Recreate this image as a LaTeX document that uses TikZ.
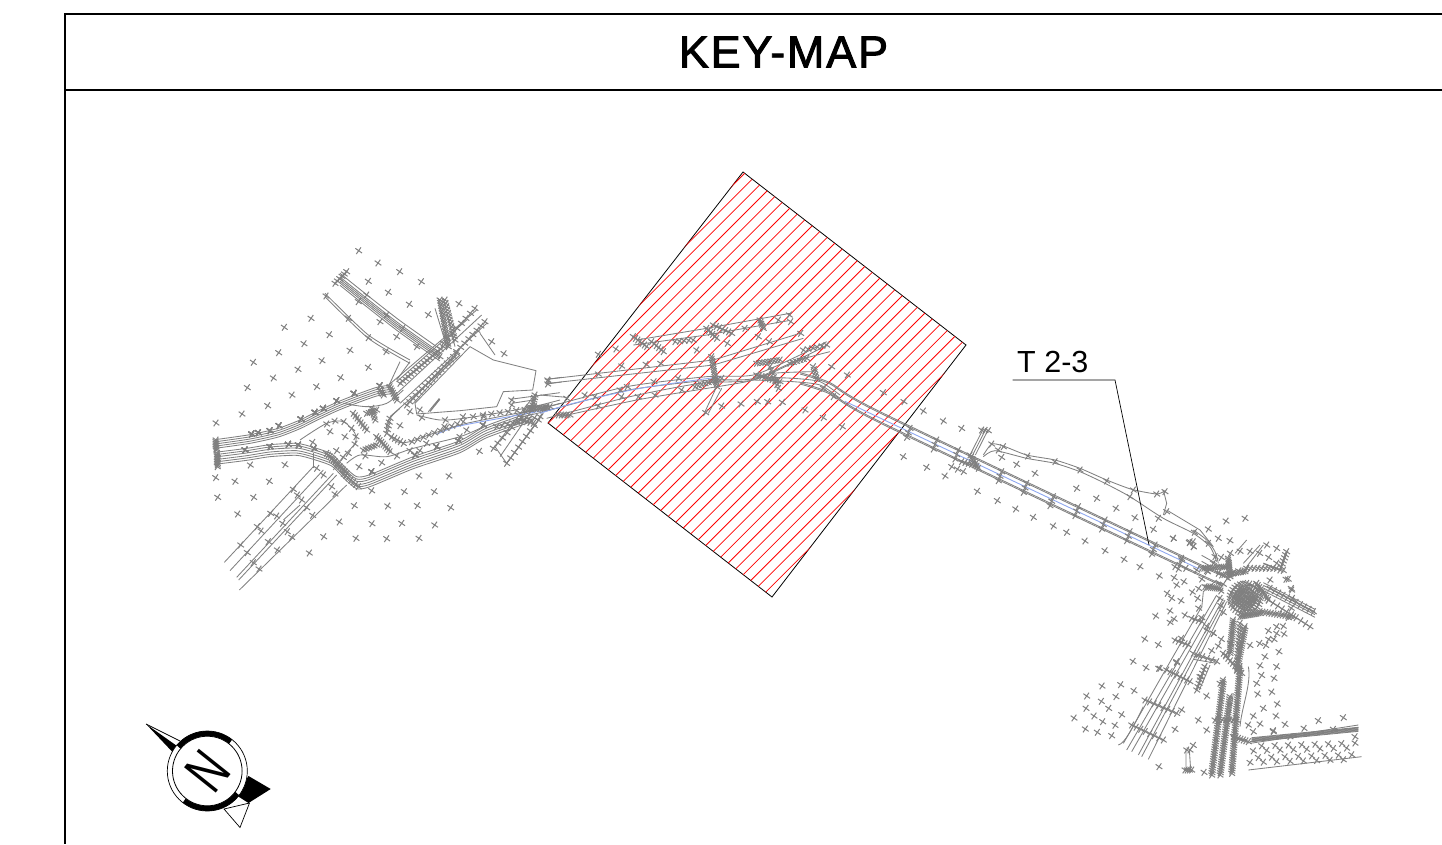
\documentclass[tikz,border=0pt]{standalone}
\usepackage{fontspec}
\setmainfont{Liberation Sans}
\newfontfamily\titlefont[FakeBold=2,LetterSpace=4]{Liberation Sans}
\definecolor{roadgray}{HTML}{808080}
\definecolor{axisblue}{HTML}{8FA8F0}
\tikzset{
  roadline/.style={draw=roadgray,line width=0.85pt},
  crossmark/.style={draw=roadgray,line width=1pt},
  axisline/.style={draw=axisblue,line width=0.9pt},
  frameline/.style={draw=black,line width=2pt},
  hatchline/.style={draw=red,line width=0.8pt},
  zoomed/.style={shift={#1},scale=0.33333}
}
% Crosses, in the 3x scopes only
\newcommand{\crosses}[1]{\foreach \x/\y in {#1} {
    \draw[crossmark] (\x-10,\y-7) -- ++(20,14) (\x-7,\y+10) -- ++(14,-20);
}}
\newcommand{\crossrun}[5]{\foreach \i in {0,...,#5} {
    \pgfmathsetmacro{\cx}{#1+(#3-#1)*\i/#5}
    \pgfmathsetmacro{\cy}{#2+(#4-#2)*\i/#5}
    \draw[crossmark] (\cx-10,\cy-7) -- ++(20,14) (\cx-7,\cy+10) -- ++(14,-20);
}}
\newcommand{\bundle}[2]{\foreach \o in {#1} {
    \draw[roadline,yshift=\o pt] plot[smooth,tension=0.4] coordinates {#2};
}}
\begin{document}
\begin{tikzpicture}[x=1pt,y=-1pt]
\useasboundingbox (0,0) rectangle (1442,844);

% Frame and title
\draw[frameline] (1442,14) -- (65,14) -- (65,844);
\draw[frameline] (65,90) -- (1442,90);
\node[font=\titlefont\fontsize{45}{50}\selectfont,inner sep=0pt] (maptitle) at (783.5,52) {KEY-MAP};

% Hatched sheet
\coordinate (sheetn) at (743,172);
\coordinate (sheete) at (966,345);
\coordinate (sheets) at (772,597);
\coordinate (sheetw) at (548,423);
\draw[black,line width=0.8pt] (sheetn) -- (sheete) -- (sheets) -- (sheetw) -- cycle;
\begin{scope}
  \clip (sheetn) -- (sheete) -- (sheets) -- (sheetw) -- cycle;
  \foreach \k in {0,...,34} {
    \pgfmathsetmacro{\hc}{918+13.33*\k}
    \draw[hatchline] (\hc-100,100) -- (\hc-700,700);
  }
\end{scope}

% West junction
\begin{scope}[zoomed={(200,240)}]
\bundle{-13,-6.5,0,6.5,13}{(45,612) (150,597) (235,578) (300,553) (350,528) (410,500) (460,480) (530,455) (575,448)}
\bundle{-18,-11,-4,4,11,18}{(45,655) (140,643) (210,632) (290,628) (340,640) (395,660) (435,700) (470,728) (510,722) (640,668) (780,620) (860,575) (1000,525)}
% north west arms
\bundle{-18,-11,-5,1,7,18}{(420,118) (510,190) (600,260) (720,345)}
\bundle{-5,5}{(375,165) (505,290) (630,365)}
\draw[roadline] (630,365) -- (590,420);
\draw[roadline] (600,365) -- (565,440);
% arm going north east
\foreach \a/\b/\c/\d in {560/440/830/210, 580/470/845/225, 600/490/860/250, 570/530/780/345, 640/490/770/345, 590/425/800/240} {
  \draw[roadline] (\a,\b) -- (\c,\d);
}
\foreach \a/\b/\c/\d in {715/175/745/320, 730/175/765/320, 705/205/740/320} {
  \draw[roadline] (\a,\b) -- (\c,\d);
}
% south west arm
\foreach \a/\b/\c/\d in {73/967/340/680, 90/992/370/690, 110/1012/400/700, 116/1020/410/705, 118/1050/440/735} {
  \draw[roadline] (\a,\b) -- (\c,\d);
}
\draw[roadline] (250,840) -- (300,795);
\draw[roadline] (340,685) -- (340,640);
% inner loops
\draw[roadline] plot[smooth,tension=0.5] coordinates {(300,600) (380,550) (430,545) (465,580) (465,610) (430,650) (400,690)};
\draw[roadline] plot[smooth,tension=0.5] coordinates {(600,505) (565,540) (560,575) (590,605) (630,605) (700,580) (800,550) (1000,510) (1080,490)};
\draw[roadline] plot[smooth,tension=0.5] coordinates {(430,490) (500,500) (560,490) (610,450)};
\draw[roadline] plot[smooth,tension=0.5] coordinates {(440,670) (480,645) (560,650) (640,625) (780,590) (850,560)};
\draw[roadline] plot[smooth,tension=0.5] coordinates {(650,525) (720,540) (790,535) (900,518) (1000,500) (1080,480)};
% site outline
\draw[roadline] (810,320) -- (880,360) -- (1008,392) -- (998,450) -- (910,455) -- (890,500) -- (780,512) -- (650,522) -- (645,490) -- cycle;
\draw[roadline] (840,280) -- (885,345);
\draw[roadline] (685,515) -- (718,475) (690,515) -- (720,478);
\draw[roadline] (930,478) -- (1080,458) (935,490) -- (1000,480);
\draw[roadline] (1040,418) -- (1085,412) (1040,432) -- (1085,426);
% tail at the sheet
\foreach \a/\b/\c/\d in {880/625/1000/470, 900/650/1010/490, 920/670/1030/520, 885/620/920/670, 920/670/1020/535} {
  \draw[roadline] (\a,\b) -- (\c,\d);
}
\draw[axisline] plot[smooth,tension=0.5] coordinates {(710,583) (770,560) (900,535) (1080,503)};

% scattered levels
\crosses{476/32,534/69,599/95,664/125,505/124,565/157,628/193,685/224,777/191,333/235,253/262,388/284,312/311,450/331,236/338,160/367,366/362,294/388,505/382,220/414,422/413,142/443,350/440,276/465,203/497,126/522,48/549,875/305,912/341,47/713,105/724,208/724,53/772,161/772,113/822,255/674,151/675,463/797,563/798,652/797,752/803,703/755,613/755,657/708,747/708,515/752,418/846,516/851,605/850,704/855,371/890,468/895,560/896,657/895,328/939,838/634,390/575,435/590,338/607,410/632,477/680,545/668,495/648,600/557,665/533,736/540,680/610,630/632,660/632,590/648}
% crosses across the roads
\crossrun{48}{600}{48}{630}{6}
\crossrun{52}{640}{52}{680}{8}
\foreach \px/\py/\n in {155/597/5,175/593/5,210/587/4,237/572/4,303/552/6,345/532/6,370/520/5,410/497/5,462/475/5,540/452/4,135/645/5,210/635/5,265/628/5,295/630/5,342/640/5} {
  \crossrun{\px}{\py-15}{\px}{\py+15}{\n}
}
\crossrun{380}{640}{440}{700}{12}
\crossrun{430}{700}{475}{740}{6}
\foreach \px/\py/\n in {515/715/5,645/665/6,710/640/4,775/622/4,850/575/4} {
  \crossrun{\px}{\py-20}{\px}{\py+20}{\n}
}
\crossrun{440}{95}{405}{130}{5}
\crosses{378/168,445/235,505/293,558/335,475/185,500/165,540/245,560/225,590/290,608/265,650/320,720/350}
\crossrun{730}{320}{600}{430}{16}
\crossrun{770}{340}{620}{495}{16}
\crossrun{825}{205}{730}{310}{7}
\crossrun{855}{245}{770}{335}{7}
\crossrun{720}{180}{745}{320}{18}
\crossrun{735}{180}{765}{300}{12}
\crossrun{570}{440}{590}{480}{6}
\crossrun{540}{450}{550}{465}{3}
% ring marks
\crosses{380/552,405/543,432/545,455/565,468/590,465/612,445/640,430/652,405/665,350/685,370/705,395/740,405/762,280/748,292/765,305/780,320/803,338/826,212/820,230/828,248/850,262/875,275/892,172/860,183/873,205/905,232/930,122/915,142/938,160/968,177/987}
\crossrun{460}{520}{500}{570}{7}
\crossrun{500}{520}{530}{510}{4}
\crossrun{490}{630}{530}{615}{5}
\crossrun{530}{590}{570}{635}{8}
\crossrun{515}{505}{525}{540}{4}
\crossrun{570}{535}{560}{580}{4}
\crossrun{575}{590}{610}{610}{4}
\crossrun{635}{605}{790}{545}{9}
\crossrun{790}{530}{850}{530}{2}
\crossrun{850}{525}{1000}{505}{6}
\crossrun{985}{505}{1040}{505}{8}
\crossrun{1005}{465}{995}{510}{6}
\crossrun{890}{560}{1020}{530}{8}
\crossrun{920}{670}{1015}{540}{8}
\crossrun{880}{625}{990}{500}{8}
\crossrun{960}{540}{1000}{550}{4}
\crosses{935/480,935/495,1043/420,1043/432,660/510,630/515,735/560,780/590,800/570}
\end{scope}

% Stretch under the sheet
\begin{scope}[zoomed={(540,300)}]
\bundle{-6,5}{(-60,345) (0,332) (260,265) (500,235) (640,230) (780,170) (860,130)}
\bundle{0}{(20,355) (270,290) (480,250) (640,240) (780,180) (870,155)}
\bundle{0}{(60,350) (290,300) (470,270) (620,245) (700,220) (820,215)}
\bundle{-5,5}{(640,235) (760,240) (840,250) (900,290)}
\draw[roadline] (290,120) -- (500,85) -- (750,40) (280,135) -- (500,105) -- (745,62);
\draw[roadline] (20,238) -- (520,180) -- (780,100) (25,250) -- (520,195) -- (790,115);
\draw[roadline] (0,285) -- (80,292);
\draw[roadline] (495,335) -- (530,260) (505,340) -- (545,265);
\draw[axisline] plot[smooth,tension=0.5] coordinates {(0,340) (100,310) (300,265) (545,230)};
\crosses{25/243,175/163,228/147,245/198,318/193,362/190,470/150,562/130,655/110,688/125,782/100,545/318,603/312,652/305,683/305,727/307,795/330,850/353,907/380,875/200,922/225,497/338,175/222,80/295,135/285,165/290,245/290,295/290,345/285,425/270,262/260,342/245,415/235,175/318,20/320,240/270,850/265,880/290}
\crossrun{280}{110}{320}{140}{6}
\crossrun{335}{125}{370}{155}{5}
\crossrun{405}{125}{460}{120}{4}
\crossrun{500}{85}{530}{115}{5}
\crossrun{520}{75}{575}{100}{6}
\crossrun{660}{60}{670}{85}{4}
\crosses{615/85,715/60,748/45,752/65}
\crossrun{515}{170}{530}{260}{12}
\crossrun{465}{260}{545}{235}{8}
\crossrun{650}{190}{720}{180}{8}
\crossrun{650}{225}{720}{245}{9}
\crossrun{690}{200}{715}{265}{6}
\crossrun{750}{190}{800}{175}{5}
\crossrun{790}{150}{860}{135}{5}
\crossrun{820}{200}{830}{235}{4}
\crossrun{55}{345}{90}{345}{4}
\crossrun{0}{325}{30}{320}{3}
\end{scope}

% East road
\begin{scope}[zoomed={(880,340)}]
\bundle{-17,-13,13,17}{(-240,115) (-150,145) (0,232) (960,690) (1010,710)}
\bundle{-9,9}{(965,655) (1010,680)}
\draw[roadline] plot[smooth,tension=0.4] coordinates {(310,345) (335,312) (370,318) (440,345) (525,360) (600,385) (680,420) (755,448) (830,462) (855,452)};
\draw[roadline] plot[smooth,tension=0.4] coordinates {(310,350) (345,332) (440,355) (525,370) (600,395) (675,430) (750,470) (850,535) (940,580) (990,620) (1010,665)};
\draw[roadline] (850,450) -- (860,490) -- (850,525) (860,510) -- (960,570) -- (1000,620);
\foreach \a in {270,278,286} {
  \draw[roadline] (\a,345) -- (\a+38,270);
}
\draw[axisline] (-105,184) -- (0,234) -- (960,688);
\crosses{10/158,72/185,130/213,190/243,245/265,70/350,140/382,195/408,292/454,352/482,407/507,460/532,520/558,560/577,615/603,675/632,732/658,780/680,838/708,410/373,465/400,590/445,650/475,708/505,765/533,820/568,880/595,930/605,940/620,1005/650,355/330,365/352}
\foreach \px/\py in {90/265,170/300,235/330,365/395,440/430,520/470,595/500,675/540,750/575,825/615,905/660} {
  \crossrun{\px}{\py}{\px-10}{\py+27}{2}
}
\crosses{335/312,370/320,443/348,525/365,600/390,680/423,760/450,750/470,830/462,855/455,860/515,835/535,943/577,985/610}
\crossrun{270}{345}{295}{385}{6}
\crossrun{245}{365}{285}{375}{4}
\crossrun{305}{270}{325}{272}{2}
\crossrun{215}{380}{250}{395}{2}
\crossrun{885}{680}{1015}{700}{4}
\end{scope}

% East junction
\begin{scope}[zoomed={(1060,480)}]
% roads to the south
\foreach \a/\b/\c/\d in {200/810/470/345, 215/815/480/350, 235/825/490/355, 245/830/495/360, 265/838/500/365, 190/790/425/380} {
  \draw[roadline] (\a,\b) -- (\c,\d);
}
\draw[roadline] (175,795) .. controls (195,790) and (220,740) .. (250,680);
\draw[roadline] (425,385) -- (430,335) -- (470,300);
\draw[roadline] plot[smooth,tension=0.5] coordinates {(400,150) (440,180) (465,215) (475,250)};
\draw[roadline] (525,220) -- (560,180) (550,250) -- (600,195) (560,260) -- (610,195);
\foreach \o in {-12,-4,4,12} {
  \draw[roadline] (610,320+\o) -- (765,400+\o);
}
\draw[roadline] (570,785) -- (895,735) (570,790) -- (895,742);
\foreach \o in {0,2,...,12} {
  \draw[roadline] (575,773+\o) -- (895,742+\o);
}
\draw[roadline] (565,870) -- (905,830);
\draw[roadline] (565,560) .. controls (575,610) and (545,680) .. (540,740);
\draw[roadline] (400,528) -- (470,540) (400,538) -- (470,550);
\draw[roadline] (440,550) -- (410,625) (450,555) -- (418,630);
\draw[roadline] (378,810) -- (378,870) (388,810) -- (392,870);
\draw[roadline,line width=1.4pt] (680,215) -- (660,270) -- (610,250);
\foreach \a/\b/\c/\d in {470/720/490/600, 500/760/520/640, 520/770/545/560} {
  \draw[roadline] (\a,\b) -- (\c,\d);
}

% roundabout
\foreach \r in {8,16,24,32} {
  \pgfmathsetmacro{\st}{360/(\r*0.8)}
  \foreach \a in {0,\st,...,359} {
    \pgfmathsetmacro{\rx}{555+\r*cos(\a)}
    \pgfmathsetmacro{\ry}{355-\r*sin(\a)}
    \crosses{\rx/\ry}
  }
}
\foreach \a in {0,12,...,348} {
  \crossrun{555+45*cos(\a)}{355-45*sin(\a)}{555+52*cos(\a)}{355-52*sin(\a)}{1}
}
\foreach \a in {90,105,...,210} {
  \crossrun{555+75*cos(\a)}{355-85*sin(\a)}{555+70*cos(\a)}{355-70*sin(\a)}{1}
}
\crossrun{425}{265}{505}{260}{12}
\crossrun{505}{235}{510}{290}{10}
\crossrun{485}{285}{555}{275}{10}
\crossrun{435}{320}{480}{325}{8}
\crossrun{590}{310}{625}{360}{8}
\crossrun{540}{410}{600}{400}{10}
\crossrun{600}{395}{700}{410}{12}
\crossrun{630}{325}{760}{395}{10}
\crossrun{625}{360}{750}{440}{9}
\crossrun{560}{265}{650}{265}{8}
\crossrun{680}{215}{660}{270}{6}
\crossrun{555}{440}{530}{570}{20}
\crossrun{520}{420}{510}{520}{16}
\crossrun{540}{430}{530}{570}{14}
% southern spines
\crossrun{490}{600}{455}{885}{40}
\crossrun{510}{650}{480}{885}{34}
\crossrun{540}{560}{515}{880}{46}
\crossrun{490}{520}{545}{580}{8}
\crossrun{520}{770}{565}{785}{6}
\crossrun{465}{720}{530}{720}{6}
\crossrun{400}{520}{470}{545}{5}
\crossrun{435}{560}{410}{630}{7}
\crossrun{375}{870}{395}{870}{3}
\crossrun{380}{810}{390}{810}{1}
\crossrun{320}{570}{390}{605}{7}
\crossrun{345}{480}{385}{495}{4}
\crossrun{395}{415}{425}{425}{3}
\crossrun{255}{660}{350}{700}{7}
\crossrun{215}{735}{310}{780}{7}
\crossrun{350}{545}{300}{565}{1}
\crossrun{440}{450}{460}{460}{1}
% field in the south east
\foreach \fx in {580,620,660,700,740,780,820,860} {
  \pgfmathsetmacro{\fa}{830-\fx*0.03}
  \pgfmathsetmacro{\fb}{850-\fx*0.03}
  \pgfmathsetmacro{\fc}{865-\fx*0.03}
  \pgfmathsetmacro{\fd}{815-\fx*0.03}
  \crosses{\fx/\fa,\fx+15/\fb,\fx-10/\fc,\fx+25/\fd}
}
\crosses{675/733,732/745,775/722,850/713,820/748,690/770,885/770,640/755}
\crosses{80/648,126/618,182/614,222/632,124/664,168/650,78/685,146/685,185/704,42/714,102/708,128/725,76/747,112/757,155/767,165/736,254/477,295/494,219/544,258/563,296/565,340/175,388/188,400/200,350/315,372/305,322/340,363/362,397/336,287/408,330/393,375/405,330/427,350/548,475/498,455/512,497/525,415/720,440/750,440/648,297/860,400/796,432/877,475/175,510/182,620/195,650/205,630/300,678/298,695/330,625/452,650/440,672/462,617/496,642/478,657/515,615/530,600/557,650/560,605/586,642/595,590/610,593/642,635/636,652/672,610/685,580/708,648/708,600/732,565/735,580/755,640/752,480/610,420/590,365/690,345/748}
\end{scope}

% Leader and its label
\node[anchor=base west,inner sep=0pt,font=\fontsize{30.5}{34}\selectfont] (tlabel) at (1017,372) {T 2-3};
\coordinate (leadstart) at (1012.5,380);
\coordinate (leadbend) at (1115,380);
\coordinate (leadend) at (1149,545);
\draw[black,line width=0.7pt] (leadstart) -- (leadbend) -- (leadend);

% North arrow
\coordinate (compass) at (207.3,771);
\filldraw[black,line width=0.7pt,fill=white] (224,809) -- (240,827.5) -- (249.5,803) -- cycle;
\fill[black] (248.5,776) -- (270.7,789) -- (248.5,803) -- (236,795) -- cycle;
\fill[black] (146,724) -- (177,746) -- (172.5,752) -- cycle;
\draw[black,line width=0.7pt] (146,724) -- (180,741);
\begin{scope}[shift={(compass)},x=1pt,y=1pt]
  \draw[black,line width=0.7pt,fill=white] (0,0) circle (40);
  \draw[black,line width=0.8pt] (0,0) circle (34.8);
  \draw[black,line width=5pt] (51.5:37.5) arc[start angle=51.5,end angle=140,radius=37.5];
  \draw[black,line width=5pt] (-128:37.5) arc[start angle=-128,end angle=-37,radius=37.5];
\end{scope}
\node[rotate=-128.6,inner sep=0pt,font=\fontsize{59}{60}\selectfont] (northmark) at (compass) {\scalebox{0.72}[1]{N}};
\end{tikzpicture}
\end{document}
